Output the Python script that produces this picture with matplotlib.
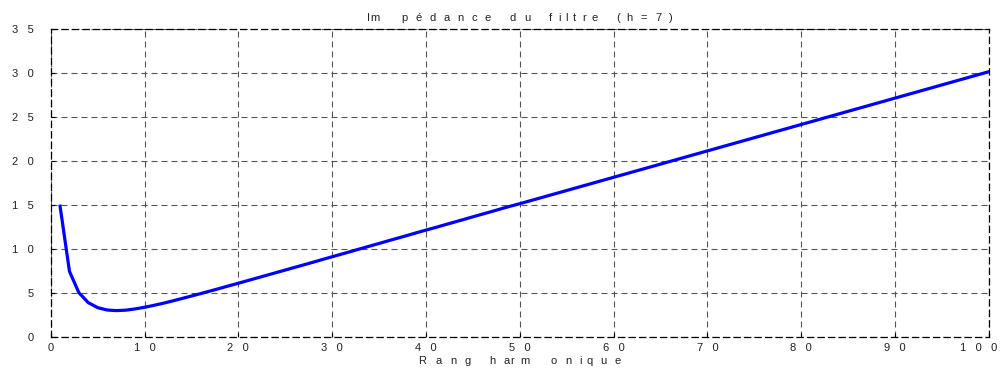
import matplotlib
matplotlib.use("Agg")
import matplotlib.pyplot as plt
from matplotlib.transforms import ScaledTranslation

# Rang harmonique et module de l'impédance du filtre accordé sur h = 7
rang = list(range(1, 101))
impedance = [
    14.87, 7.46, 5.04, 3.91, 3.34, 3.07, 3.00, 3.05, 3.19, 3.38,
    3.60, 3.84, 4.10, 4.38, 4.66, 4.94, 5.23, 5.52, 5.82, 6.11,
    6.41, 6.71, 7.01, 7.31, 7.61, 7.91, 8.21, 8.51, 8.82, 9.12,
    9.42, 9.72, 10.03, 10.33, 10.63, 10.94, 11.24, 11.54, 11.85, 12.15,
    12.44, 12.75, 13.05, 13.35, 13.66, 13.96, 14.26, 14.57, 14.87, 15.15,
    15.45, 15.75, 16.05, 16.35, 16.65, 16.95, 17.25, 17.55, 17.85, 18.15,
    18.45, 18.75, 19.05, 19.35, 19.65, 19.95, 20.25, 20.55, 20.85, 21.15,
    21.45, 21.75, 22.05, 22.35, 22.65, 22.95, 23.25, 23.55, 23.85, 24.15,
    24.45, 24.75, 25.05, 25.35, 25.65, 25.95, 26.25, 26.55, 26.85, 27.15,
    27.45, 27.75, 28.05, 28.35, 28.65, 28.95, 29.25, 29.55, 29.85, 30.15,
]
xticks = list(range(0, 101, 10))
yticks = list(range(0, 36, 5))
titre = "I|m pédance du filtre (h=7)"
xlabel = "Rang ha|rm onique"

plt.rcParams["font.family"] = ["Liberation Sans", "DejaVu Sans"]

W, H, DPI = 1006, 371, 100
TAILLE = 8  # pt

# chasses Arial (1/1000 em) pour l'espacement des lettres
CHASSE = {"I": 278, "m": 833, "p": 556, "é": 556, "d": 556, "a": 556,
          "n": 556, "c": 500, "e": 556, "u": 556, "f": 278, "i": 222,
          "l": 222, "t": 278, "r": 333, "(": 333, ")": 333, "h": 556,
          "=": 584, "7": 556, "R": 722, "g": 556, "o": 556, "q": 556}


def espace(txt):
    return "   ".join(txt)


def texte_etire(fig, txt, xc, yb, k=1.75, c=3.3, blanc=11):
    # lettres très espacées : chaque caractère placé à la main
    em = TAILLE * DPI / 72
    pos = []
    x = 0.0
    i = 0
    while i < len(txt):
        ch = txt[i]
        if ch == " ":
            x += blanc
            i += 1
            continue
        w = CHASSE.get(ch, 556) * em / 1000
        colle = i + 1 < len(txt) and txt[i + 1] == "|"
        pos.append((x, ch, w))
        x += (w + 1) if colle else (k * w + c)
        i += 2 if colle else 1
    total = pos[-1][0] + pos[-1][2]
    x0 = xc - total / 2
    for dx, ch, _ in pos:
        fig.text((x0 + dx) / W, 1 - yb / H, ch, ha="left", va="baseline",
                 fontsize=TAILLE, color="#222222")


fig = plt.figure(figsize=(W / DPI, H / DPI), dpi=DPI)
ax = fig.add_axes([0.0504, 0.0916, 0.9326, 0.8302])

ax.plot(rang, impedance, color="#0000ff", linewidth=2.3, zorder=3)

ax.set_xlim(0, 100)
ax.set_ylim(0, 35)
ax.set_xticks(xticks)
ax.set_yticks(yticks)
ax.set_xticklabels([espace(str(v)) for v in xticks])
ax.set_yticklabels([espace(str(v)) for v in yticks])
ax.tick_params(direction="in", length=3, width=0.8, colors="black",
               labelsize=TAILLE, labelcolor="#222222")
ax.tick_params(axis="y", pad=12)
ax.tick_params(axis="x", pad=4)

# le dernier label « 1 0 0 » reste dans la figure
lab = ax.get_xticklabels()[-1]
lab.set_transform(lab.get_transform() + ScaledTranslation(-10 / DPI, 0, fig.dpi_scale_trans))

ax.grid(True, color="#555555", linestyle=(0, (5.4, 3.6)), linewidth=0.8)
for sp in ax.spines.values():
    sp.set_linestyle((0, (5.0, 3.4)))
    sp.set_color("black")
    sp.set_linewidth(0.9)

xc = W * (0.0504 + 0.9326 / 2)
texte_etire(fig, titre, xc, 21)
texte_etire(fig, xlabel, xc, 364)

fig.savefig("out.png", dpi=DPI)
